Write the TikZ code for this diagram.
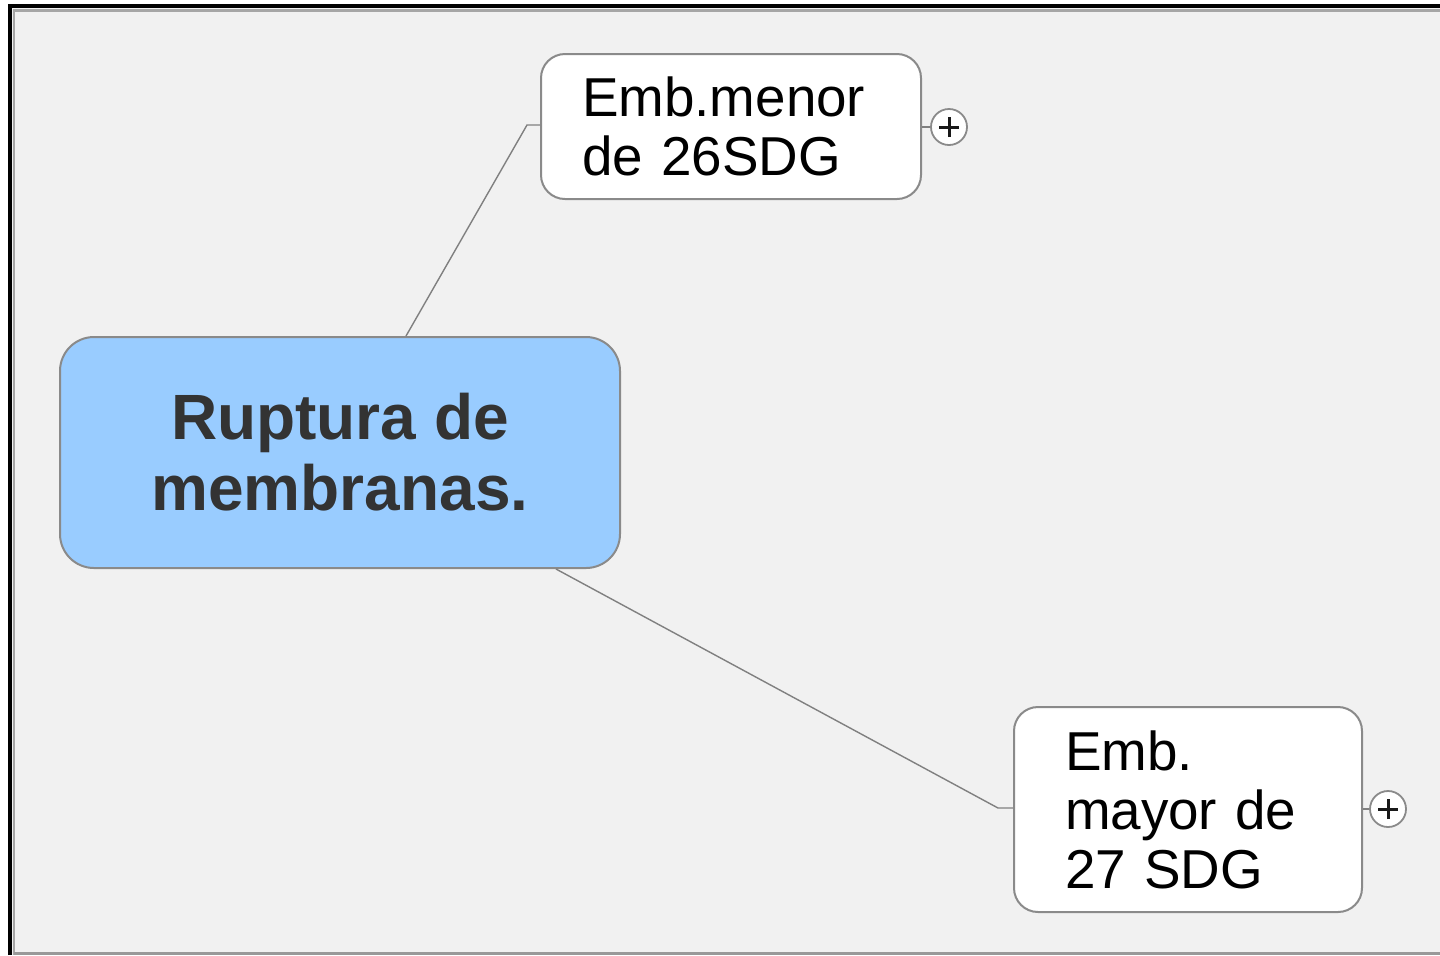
\documentclass[tikz,border=0pt]{standalone}
\usepackage{fontspec}
\setmainfont{Liberation Sans}
\definecolor{bgc}{HTML}{F1F1F1}
\definecolor{edgec}{HTML}{8A8A8A}
\definecolor{linec}{HTML}{808080}
\definecolor{centralc}{HTML}{99CCFF}
\definecolor{ctext}{HTML}{333333}
\tikzset{
  central/.style={draw=edgec, line width=1pt, fill=centralc, rounded corners=17pt,
    text=ctext, align=center, font=\bfseries\fontsize{32}{35.5}\selectfont},
  topic/.style={draw=edgec, line width=1pt, fill=white, rounded corners=12pt,
    text=black, align=left, inner ysep=0pt, font=\fontsize{27.4}{29.5}\selectfont},
  conn/.style={draw=linec, line width=0.7pt},
  plusc/.style={circle, draw=edgec, line width=0.9pt, fill=white, minimum size=18pt, inner sep=0pt},
  plusmark/.style={draw=black!90, line width=1.5pt}
}
\begin{document}
\begin{tikzpicture}[x=0.5pt,y=-0.5pt]
\useasboundingbox (0,0) rectangle (1440,955);
\fill[bgc] (0,0) rectangle (1440,955);
\fill[white] (0,0) rectangle (8,955);
\fill[white] (0,0) rectangle (1440,4);
\draw[black, line width=2pt] (9.5,955) -- (9.5,6) -- (1440,6);
\draw[gray!70, line width=1.2pt] (14,955) -- (14,10.5) -- (1440,10.5);
\draw[gray!80, line width=1.5pt] (14,953.5) -- (1440,953.5);

\node[central, minimum width=280pt, minimum height=115.5pt] (c) at (340,452.5) {Ruptura de\\membranas.};
\node[topic, minimum width=190pt, minimum height=72.5pt, text width=149pt, inner xsep=20.5pt] (t1) at (731,126.5) {Emb.menor\\de 26SDG};
\node[topic, minimum width=174pt, minimum height=102.5pt, text width=123pt, inner xsep=25.5pt] (t2) at (1188,809.5) {Emb.\\mayor de\\27 SDG};

\coordinate (k1) at (527,125);
\coordinate (k2) at (998,808);
\draw[conn] (c.north -| 406,0) -- (k1) -- (t1.west |- k1);
\draw[conn] (c.south -| 556,0) -- (k2) -- (t2.west |- k2);

\node[plusc] (p1) at (949,127) {};
\node[plusc] (p2) at (1388,809) {};
\draw[plusmark] ([xshift=-5pt]p1.center) -- ([xshift=5pt]p1.center)
  ([yshift=-5pt]p1.center) -- ([yshift=5pt]p1.center);
\draw[plusmark] ([xshift=-5pt]p2.center) -- ([xshift=5pt]p2.center)
  ([yshift=-5pt]p2.center) -- ([yshift=5pt]p2.center);
\draw[conn] (t1.east |- p1) -- (p1.west);
\draw[conn] (t2.east |- p2) -- (p2.west);
\end{tikzpicture}
\end{document}
